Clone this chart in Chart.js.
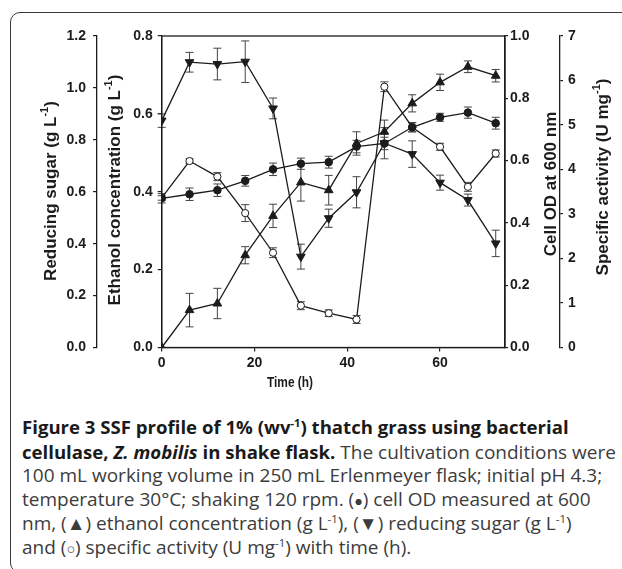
<!DOCTYPE html>
<html><head><meta charset="utf-8">
<script src="https://cdn.jsdelivr.net/npm/chart.js@4/dist/chart.umd.min.js"></script>
<style>
html,body{margin:0;padding:0;background:#fff;width:622px;height:569px;overflow:hidden;}
#card{position:absolute;left:10px;top:12px;width:660px;height:561px;border:1.5px solid #3a3a3a;border-radius:10px;box-sizing:border-box;}
#cv{position:absolute;left:0;top:0;}
#cap{position:absolute;left:22px;top:415px;font-family:'Open Sans',sans-serif;font-size:19px;line-height:23.6px;color:#3c3c3c;white-space:nowrap;}
#cap b{color:#1a1a1a;font-size:18.6px;font-weight:700;font-stretch:92.5%;}
#cap sup{font-size:0.6em;line-height:0;vertical-align:0.6em;}
.sm{font-size:0.75em;}
</style></head>
<body>
<div id="card"></div>
<canvas id="cv" width="622" height="400"></canvas>
<div id="cap"><b>Figure 3 SSF profile of 1% (wv<sup>-1</sup>) thatch grass using bacterial</b><br><b>cellulase, <i>Z. mobilis</i> in shake flask.</b> The cultivation conditions were<br>100 mL working volume in 250 mL Erlenmeyer flask; initial pH 4.3;<br>temperature 30°C; shaking 120 rpm. (<span class="sm">●</span>) cell OD measured at 600<br>nm, (▲) ethanol concentration (g L<sup>-1</sup>), (▼) reducing sugar (g L<sup>-1</sup>)<br>and (<span class="sm">○</span>) specific activity (U mg<sup>-1</sup>) with time (h).</div>
<script>
// ---- data ----
const times = [0, 6, 12, 18, 24, 30, 36, 42, 48, 54, 60, 66, 72];
const cellOD = [0.479, 0.492, 0.505, 0.535, 0.572, 0.590, 0.595, 0.645, 0.655, 0.707, 0.739, 0.754, 0.720];
const cellODErr = [0.015, 0.02, 0.02, 0.017, 0.02, 0.018, 0.019, 0.02, 0.02, 0.015, 0.013, 0.018, 0.019];
const ethanol = [0, 0.096, 0.113, 0.237, 0.338, 0.424, 0.404, 0.524, 0.554, 0.627, 0.681, 0.721, 0.698];
const ethanolErr = [0, 0.043, 0.039, 0.022, 0.030, 0.048, 0.038, 0.030, 0.030, 0.022, 0.021, 0.015, 0.016];
const sugar = [0.874, 1.099, 1.092, 1.101, 0.921, 0.350, 0.498, 0.598, 0.787, 0.745, 0.635, 0.568, 0.401];
const sugarErr = [0.026, 0.038, 0.061, 0.080, 0.040, 0.048, 0.035, 0.060, 0.060, 0.051, 0.029, 0.023, 0.051];
const activity = [3.36, 4.19, 3.84, 3.02, 2.13, 0.94, 0.77, 0.63, 5.86, 4.95, 4.51, 3.61, 4.36];
const activityErr = [0.05, 0.05, 0.09, 0.19, 0.11, 0.09, 0.075, 0.09, 0.11, 0.1, 0.08, 0.1, 0.08];

const xTicks = [0, 20, 40, 60];
const xTickLabels = ['0', '20', '40', '60'];
const sugarTicks = [0, 0.2, 0.4, 0.6, 0.8, 1.0, 1.2];
const sugarTickLabels = ['0.0', '0.2', '0.4', '0.6', '0.8', '1.0', '1.2'];
const ethanolTicks = [0, 0.2, 0.4, 0.6, 0.8];
const ethanolTickLabels = ['0.0', '0.2', '0.4', '0.6', '0.8'];
const odTicks = [0, 0.2, 0.4, 0.6, 0.8, 1.0];
const odTickLabels = ['0.0', '0.2', '0.4', '0.6', '0.8', '1.0'];
const actTicks = [0, 1, 2, 3, 4, 5, 6, 7];
const actTickLabels = ['0', '1', '2', '3', '4', '5', '6', '7'];

// ---- styling ----
const INK = '#1c1c1c';
const TICKFONT = {family: "'Liberation Sans',Arial,sans-serif", size: 14, weight: 'bold'};
const TITLEF = "bold 17px 'Liberation Sans',Arial,sans-serif";
const SUPF = "bold 11px 'Liberation Sans',Arial,sans-serif";
const XTITLEF = "bold 14px 'Liberation Sans',Arial,sans-serif";

const pts = v => times.map((t, i) => ({x: t, y: v[i]}));

function yAxis(pos, weight, min, max, ticks, labels, width, tl, pad) {
  return {
    type: 'linear', position: pos, weight: weight, min: min, max: max,
    afterBuildTicks: s => { s.ticks = ticks.map(v => ({value: v})); },
    afterFit: s => { s.width = width; },
    ticks: {autoSkip: false, font: TICKFONT, color: INK, padding: pad,
            callback: (v, i) => labels[i]},
    grid: {display: true, drawOnChartArea: false, drawTicks: true, tickLength: tl, color: INK, lineWidth: 1.2},
    border: {display: true, color: INK, width: 1.3}
  };
}

function vtitle(ctx, parts, cx, cy) {
  ctx.save();
  ctx.translate(cx, cy);
  ctx.rotate(-Math.PI / 2);
  ctx.textBaseline = 'middle';
  ctx.textAlign = 'left';
  ctx.fillStyle = INK;
  let w = 0;
  parts.forEach(p => { ctx.font = p.sup ? SUPF : TITLEF; p.w = ctx.measureText(p.t).width; w += p.w; });
  let x = -w / 2;
  parts.forEach(p => { ctx.font = p.sup ? SUPF : TITLEF; ctx.fillText(p.t, x, p.sup ? -6 : 0); x += p.w; });
  ctx.restore();
}

const errorSets = [
  {axis: 'ySugar', vals: sugar, err: sugarErr},
  {axis: 'yEth', vals: ethanol, err: ethanolErr},
  {axis: 'yAct', vals: activity, err: activityErr},
  {axis: 'yOD', vals: cellOD, err: cellODErr}
];

const decor = {
  id: 'decor',
  beforeDatasetsDraw(chart) {
    const {ctx, scales} = chart;
    ctx.save();
    ctx.strokeStyle = '#444';
    ctx.lineWidth = 1;
    errorSets.forEach(es => {
      const ys = scales[es.axis];
      es.vals.forEach((v, i) => {
        const e = es.err[i];
        if (!e) return;
        const x = scales.x.getPixelForValue(times[i]);
        const y1 = ys.getPixelForValue(v + e), y2 = ys.getPixelForValue(v - e);
        ctx.beginPath();
        ctx.moveTo(x, y1); ctx.lineTo(x, y2);
        ctx.moveTo(x - 4, y1); ctx.lineTo(x + 4, y1);
        ctx.moveTo(x - 4, y2); ctx.lineTo(x + 4, y2);
        ctx.stroke();
      });
    });
    ctx.restore();
  },
  afterDraw(chart) {
    const {ctx, chartArea: a} = chart;
    ctx.save();
    ctx.strokeStyle = INK;
    ctx.lineWidth = 1.3;
    ctx.strokeRect(a.left, a.top, a.right - a.left, a.bottom - a.top);
    ctx.restore();
    vtitle(ctx, [{t: 'Reducing sugar (g L'}, {t: '-1', sup: true}, {t: ')'}], 51, 191);
    vtitle(ctx, [{t: 'Ethanol concentration (g L'}, {t: '-1', sup: true}, {t: ')'}], 115, 190);
    vtitle(ctx, [{t: 'Cell OD at 600 nm'}], 551, 184);
    vtitle(ctx, [{t: 'Specific activity (U mg'}, {t: '-1', sup: true}, {t: ')'}], 603, 177);
    ctx.save();
    ctx.font = XTITLEF;
    ctx.fillStyle = INK;
    ctx.textAlign = 'center';
    ctx.textBaseline = 'middle';
    ctx.translate(290, 383);
    ctx.scale(0.85, 1);
    ctx.fillText('Time (h)', 0, 0);
    ctx.restore();
  }
};

const common = {borderColor: INK, borderWidth: 1.3, pointBorderColor: INK, pointBorderWidth: 1, showLine: true, fill: false, tension: 0};

new Chart(document.getElementById('cv'), {
  type: 'line',
  data: {
    datasets: [
      Object.assign({label: 'Cell OD', data: pts(cellOD), yAxisID: 'yOD', pointStyle: 'circle', pointRadius: 3.8, pointBackgroundColor: INK}, common),
      Object.assign({label: 'Ethanol', data: pts(ethanol), yAxisID: 'yEth', pointStyle: 'triangle', pointRadius: 5, pointBackgroundColor: INK}, common),
      Object.assign({label: 'Reducing sugar', data: pts(sugar), yAxisID: 'ySugar', pointStyle: 'triangle', pointRotation: 180, pointRadius: 5, pointBackgroundColor: INK}, common),
      Object.assign({label: 'Specific activity', data: pts(activity), yAxisID: 'yAct', pointStyle: 'circle', pointRadius: 3.6, pointBackgroundColor: '#fff'}, common)
    ]
  },
  options: {
    responsive: false,
    animation: false,
    events: [],
    layout: {padding: {left: 0, right: 12, top: 36, bottom: 0}},
    plugins: {legend: {display: false}, tooltip: {enabled: false}},
    scales: {
      x: {
        type: 'linear', position: 'bottom', min: 0, max: 74,
        afterBuildTicks: s => { s.ticks = xTicks.map(v => ({value: v})); },
        afterFit: s => { s.height = 52.5; },
        ticks: {autoSkip: false, maxRotation: 0, font: TICKFONT, color: INK, padding: 3,
                callback: (v, i) => xTickLabels[i]},
        grid: {display: true, drawOnChartArea: false, drawTicks: true, tickLength: 4, color: INK, lineWidth: 1.2},
        border: {display: true, color: INK, width: 1.3}
      },
      yEth: yAxis('left', 0, 0, 0.8, ethanolTicks, ethanolTickLabels, 64.7, 4, 5),
      ySugar: yAxis('left', 1, 0, 1.2, sugarTicks, sugarTickLabels, 97, 4, 7),
      yOD: yAxis('right', 0, 0, 1.0, odTicks, odTickLabels, 55, 3, 2),
      yAct: yAxis('right', 1, 0, 7, actTicks, actTickLabels, 50, 3, 5)
    }
  },
  plugins: [decor]
});
</script>
</body></html>
